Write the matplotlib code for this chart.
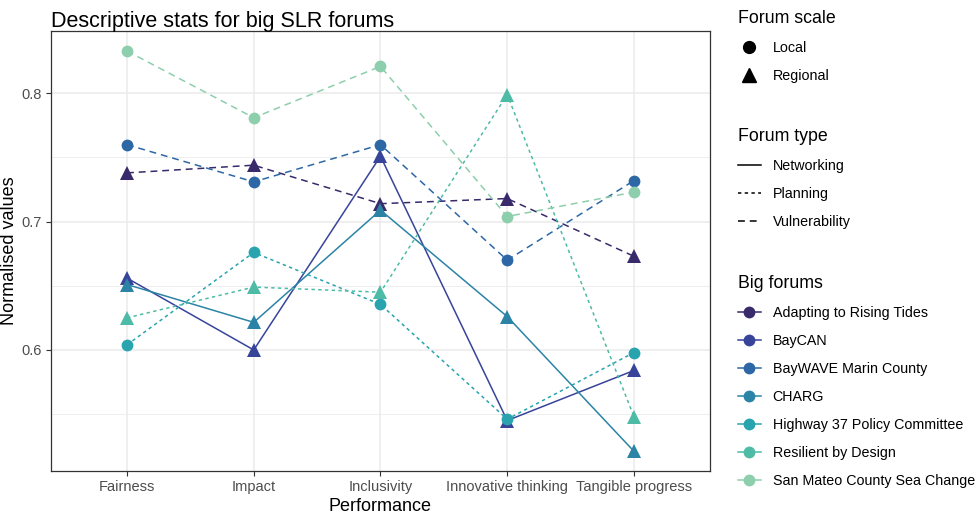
import matplotlib
matplotlib.use("Agg")
import matplotlib.pyplot as plt
from matplotlib.lines import Line2D
import numpy as np

plt.rcParams['font.family'] = ['Liberation Sans', 'DejaVu Sans']

categories = ["Fairness", "Impact", "Inclusivity", "Innovative thinking", "Tangible progress"]
forums = ["Adapting to Rising Tides", "BayCAN", "BayWAVE Marin County", "CHARG",
          "Highway 37 Policy Committee", "Resilient by Design", "San Mateo County Sea Change"]
forum_scale = ["Regional", "Regional", "Local", "Regional", "Local", "Regional", "Local"]
forum_type = ["Vulnerability", "Networking", "Vulnerability", "Networking",
              "Planning", "Planning", "Vulnerability"]

adapting = [0.738, 0.744, 0.714, 0.718, 0.673]
baycan = [0.656, 0.600, 0.751, 0.545, 0.584]
baywave = [0.760, 0.731, 0.760, 0.670, 0.732]
charg = [0.651, 0.6215, 0.709, 0.626, 0.521]
highway37 = [0.604, 0.676, 0.6355, 0.546, 0.598]
resilient = [0.625, 0.649, 0.645, 0.799, 0.548]
sanmateo = [0.833, 0.781, 0.821, 0.704, 0.723]
values = [adapting, baycan, baywave, charg, highway37, resilient, sanmateo]

colors = ["#382A6B", "#37449A", "#2E67A6", "#2B84A6", "#29A3AD", "#4DBBA5", "#8DCFAC"]
markers = {"Local": "o", "Regional": "^"}
linestyles = {"Networking": "-", "Planning": (0, (2.2, 2.2)), "Vulnerability": (0, (4.5, 3.2))}

fig = plt.figure(figsize=(9.8, 5.13), dpi=100)
ax = fig.add_axes([0.0520, 0.0825, 0.6725, 0.8571])

x = np.arange(1, len(categories) + 1)
for name, vals, col, sc, ft in zip(forums, values, colors, forum_scale, forum_type):
    ax.plot(x, vals, color=col, linestyle=linestyles[ft], linewidth=1.1, zorder=3)
    ax.plot(x, vals, color=col, linestyle='none', marker=markers[sc],
            markersize=10 if sc == "Regional" else 8.5, markeredgewidth=0, zorder=4)

ax.set_xlim(0.4, 5.6)
ax.set_ylim(0.5059, 0.8486)
ax.set_xticks(x)
ax.set_xticklabels(categories)
ax.set_yticks([0.6, 0.7, 0.8])
ax.set_yticklabels(["0.6", "0.7", "0.8"])
ax.set_yticks([0.55, 0.65, 0.75], minor=True)
ax.grid(True, which='major', color='#EBEBEB', linewidth=1.1, zorder=0)
ax.grid(True, which='minor', axis='y', color='#EBEBEB', linewidth=0.6, zorder=0)
ax.set_axisbelow(True)
for s in ax.spines.values():
    s.set_color('#333333')
    s.set_linewidth(0.9)
ax.tick_params(which='major', length=3.5, width=0.8, color='#333333', labelsize=10.5,
               labelcolor='#4D4D4D', pad=3)
ax.tick_params(which='minor', length=0)
ax.set_xlabel("Performance", fontsize=13, labelpad=3)
ax.set_ylabel("Normalised values", fontsize=13, labelpad=2.5)
fig.text(0.052, 0.978, "Descriptive stats for big SLR forums", fontsize=15.5,
         ha='left', va='top')

# Legends
fs = 10.3
common = dict(loc='upper left', frameon=False, fontsize=fs, title_fontsize=12.8,
              alignment='left', borderpad=0, handlelength=1.6, handletextpad=0.82,
              labelspacing=0.98, borderaxespad=0)

h1 = [Line2D([], [], color='black', marker=markers[k], linestyle='none',
             markersize=8.5 if k == "Local" else 10) for k in ["Local", "Regional"]]
l1 = fig.legend(h1, ["Local", "Regional"], title="Forum scale",
                bbox_to_anchor=(738 / 980, 1 - 10 / 513), **common)

h2 = [Line2D([], [], color='black', linestyle=linestyles[k], linewidth=1.1)
      for k in ["Networking", "Planning", "Vulnerability"]]
l2 = fig.legend(h2, ["Networking", "Planning", "Vulnerability"], title="Forum type",
                bbox_to_anchor=(738 / 980, 1 - 128 / 513), **common)

h3 = [Line2D([], [], color=c, marker='o', linestyle='-', linewidth=1.1, markersize=8.5,
             markeredgewidth=0) for c in colors]
l3 = fig.legend(h3, forums, title="Big forums",
                bbox_to_anchor=(738 / 980, 1 - 275 / 513), **common)

fig.savefig("out.png", dpi=100)
